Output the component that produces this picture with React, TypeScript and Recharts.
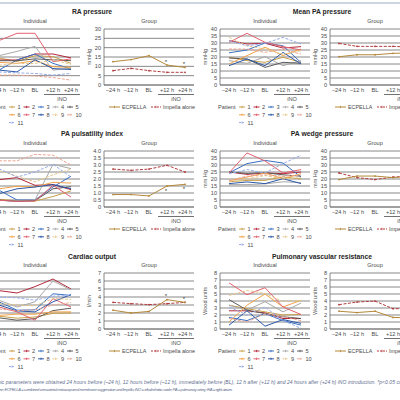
import { LineChart, Line, XAxis, YAxis, CartesianGrid, LabelList } from 'recharts';

// ─── Data ────────────────────────────────────────────────────────────────────

const TIMES = ['–24 h', '–12 h', 'BL', '+12 h', '+24 h'];
const PATIENTS = ['1', '2', '3', '4', '5', '6', '7', '8', '9', '10', '11'];

// RA pressure (mmHg), one row per patient
const raIndividual = [
  [14.5, 12.6, 15.7, 15.2, 11.6],
  [13.4, 13.4, 16.6, 16.6, 14.5],
  [8, 13.4, 16.6, 11.6, 8.6],
  [15.7, 18, 20.7, 8, 9],
  [13, 13, 14, 13.5, 13],
  [12.1, 11.6, 13, 9.8, 9.4],
  [23.8, 27.7, 27.7, 12.5, 14],
  [8, 7, 13.5, 8.8, 8.3],
  [10.6, 11.5, 11.5, 13.6, 11],
  [5.3, 5.3, 4.8, 4, 2.6],
  [7, 6.5, 6.2, 5.3, 6.2],
];
const raEcpella = [12.5, 13.6, 15.7, 10.7, 9.4];
const raImpella = [7.7, 8.9, 7.7, 6.8, 6.8];
const raSig = [false, false, false, true, true];
const raTicks = [0, 5, 10, 15, 20, 25, 30];

// Mean PA pressure (mmHg)
const mpapIndividual = [
  [19.8, 17.4, 16.2, 19.8, 16.2],
  [31.7, 29.3, 29.8, 26.4, 27.4],
  [23, 25, 30, 28, 16],
  [17.4, 15.5, 20.2, 13.8, 17.4],
  [19.3, 18.6, 12.6, 16.2, 15.5],
  [15, 21, 27, 21, 25.7],
  [30.5, 36.9, 30.5, 27.4, 25],
  [13.8, 18.6, 13.8, 23.3, 15],
  [34, 28, 25.7, 22, 24.5],
  [25.7, 25.7, 23.3, 25.7, 22],
  [31.7, 28, 29.8, 34, 29.3],
];
const mpapEcpella = [20.2, 21.6, 21.6, 22.6, 23];
const mpapImpella = [29.7, 27.6, 27.6, 27.6, 27];
const mpapSig = [false, false, false, false, false];
const mpapTicks = [0, 5, 10, 15, 20, 25, 30, 35, 40];

// PA pulsatility index
const papiIndividual = [
  [0.55, 0.45, 0.42, 0.75, 1.15],
  [1.95, 2.1, 1.55, 1.6, 1.24],
  [1.2, 0.5, 0.5, 1.43, 2.2],
  [0.48, 0.43, 0.5, 3.05, 2.74],
  [0.5, 0.4, 0.45, 1.3, 1.45],
  [1.3, 1.48, 1.43, 1.76, 1.71],
  [0.48, 0.4, 0.43, 1.55, 0.71],
  [0.95, 1.3, 1.43, 1.6, 1.3],
  [2.6, 2.2, 1.8, 2.3, 2.7],
  [3.3, 3.3, 3.76, 3.7, 3.0],
  [2.74, 2.14, 2.5, 3.05, 2.14],
];
const papiEcpella = [0.89, 0.89, 0.79, 1.5, 1.62];
const papiImpella = [2.71, 2.62, 2.71, 2.98, 2.5];
const papiSig = [false, false, false, true, true];
const papiTicks = [0, 0.5, 1, 1.5, 2, 2.5, 3, 3.5, 4];

// PA wedge pressure (mmHg)
const pawpIndividual = [
  [18, 19, 19, 21.5, 20],
  [25, 23.3, 24.3, 23.8, 25],
  [24.3, 31, 33.3, 31.4, 21.4],
  [16, 16, 16.5, 18, 17.5],
  [25, 24, 24.5, 23, 22],
  [18.6, 21.4, 24.3, 20.2, 23.8],
  [24.3, 38.6, 32.9, 24.3, 26.7],
  [16.7, 17.9, 16.7, 20.2, 16.7],
  [18, 20, 22.5, 20, 21],
  [19, 22, 23, 22, 23],
  [23.8, 26.7, 24.3, 31, 36.9],
];
const pawpEcpella = [19.6, 22.1, 22.1, 21, 22];
const pawpImpella = [24.3, 21, 19.6, 21.4, 22];
const pawpSig = [false, false, false, false, false];
const pawpTicks = [0, 5, 10, 15, 20, 25, 30, 35, 40];

// Cardiac output (l/min)
const coIndividual = [
  [1.6, 1.35, 1.5, 1.95, 2.0],
  [4.8, 4.5, 5.3, 6.25, 5.0],
  [3.4, 2.35, 2.4, 4.4, 4.2],
  [3.6, 2.75, 3.4, 6.0, 4.9],
  [1.4, 1.1, 1.3, 2.3, 2.6],
  [1.7, 1.85, 1.85, 2.14, 2.14],
  [2.75, 2.14, 1.1, 3.8, 2.75],
  [3.0, 2.26, 2.14, 3.4, 4.3],
  [3.2, 3.0, 2.9, 3.8, 3.7],
  [2.5, 2.3, 2.4, 3.0, 3.3],
  [4.0, 3.9, 3.6, 4.1, 4.2],
];
const coEcpella = [2.35, 2.0, 2.2, 3.67, 3.33];
const coImpella = [3.33, 3.17, 3.05, 3.17, 3.33];
const coSig = [false, false, false, true, true];
const coTicks = [0, 1, 2, 3, 4, 5, 6, 7];

// Pulmonary vascular resistance (Wood units)
const pvrIndividual = [
  [3.4, 2.9, 2.45, 2.0, 2.1],
  [2.6, 2.6, 2.3, 1.5, 1.5],
  [1.65, 1.2, 2.2, 1.2, 0.55],
  [3.4, 2.7, 3.9, 2.45, 3.7],
  [4.2, 2.7, 2.2, 1.75, 1.5],
  [1.0, 3.4, 5.0, 3.15, 4.1],
  [6.6, 4.9, 5.9, 3.15, 2.07],
  [0.55, 2.6, 0.4, 1.35, 0.8],
  [4.8, 5.5, 5.1, 3.9, 4.1],
  [1.5, 1.0, 2.2, 1.8, 1.2],
  [3.15, 2.0, 3.15, 1.2, 0.1],
];
const pvrEcpella = [2.54, 2.35, 2.54, 1.65, 1.6];
const pvrImpella = [3.48, 3.85, 3.99, 2.9, 2.9];
const pvrSig = [false, false, false, false, false];
const pvrTicks = [0, 1, 2, 3, 4, 5, 6, 7, 8];

// ─── Style ───────────────────────────────────────────────────────────────────

const PATIENT_COLORS = [
  '#c9a04a',
  '#b3283a',
  '#3a70c2',
  '#a9a9a9',
  '#5b5b5b',
  '#f2a34c',
  '#e3616f',
  '#2c58a6',
  '#e7c88c',
  '#eca592',
  '#98ade8',
];
const PATIENT_DASHED = [false, false, false, false, false, false, false, false, true, true, true];
const ECPELLA_COLOR = '#b5893a';
const IMPELLA_COLOR = '#b43a3c';
const GRID = '#6a6a6a';
const TXT = '#4a4a4a';
const FS = 5.6;

// plot geometry
const PW = 90;
const PH = 56;
const BAND = PW / 5;
const YW = 30;
const MT = 4;
const MR = 4;
const XH = 24;

const IND_X = [-10, 220];
const GRP_X = [104, 330];
const ROW_TOP = [28.5, 150.5, 272.5];
const TITLE_Y = [12, 134, 257];

interface Metric {
  title: string;
  unit: string;
  ticks: number[];
  fmt?: (v: number) => string;
  individual: number[][];
  ecpella: number[];
  impella: number[];
  sig: boolean[];
  starBelow?: boolean;
}

const METRICS: Metric[] = [
  { title: 'RA pressure', unit: 'mmHg', ticks: raTicks, individual: raIndividual, ecpella: raEcpella, impella: raImpella, sig: raSig },
  { title: 'Mean PA pressure', unit: 'mmHg', ticks: mpapTicks, individual: mpapIndividual, ecpella: mpapEcpella, impella: mpapImpella, sig: mpapSig },
  {
    title: 'PA pulsatility index',
    unit: '',
    ticks: papiTicks,
    fmt: (v) => (v === 0 ? '0' : v.toFixed(1)),
    individual: papiIndividual,
    ecpella: papiEcpella,
    impella: papiImpella,
    sig: papiSig,
    starBelow: true,
  },
  { title: 'PA wedge pressure', unit: 'mm Hg', ticks: pawpTicks, individual: pawpIndividual, ecpella: pawpEcpella, impella: pawpImpella, sig: pawpSig },
  { title: 'Cardiac output', unit: 'l/min', ticks: coTicks, individual: coIndividual, ecpella: coEcpella, impella: coImpella, sig: coSig },
  { title: 'Pulmonary vascular resistance', unit: 'Wood units', ticks: pvrTicks, individual: pvrIndividual, ecpella: pvrEcpella, impella: pvrImpella, sig: pvrSig },
];

function buildRows(m: Metric) {
  return TIMES.map((t, i) => {
    const row: Record<string, string | number | null> = { t };
    m.individual.forEach((vals, p) => {
      row[`p${p + 1}`] = vals[i];
    });
    row.ec = m.ecpella[i];
    row.im = m.impella[i];
    row.star = m.sig[i] ? '*' : null;
    return row;
  });
}

// ─── Pieces ──────────────────────────────────────────────────────────────────

function TimeTick(props: any) {
  const { x, y, payload, index } = props;
  return (
    <g>
      <text x={x} y={y + 6.5} textAnchor="middle" fontSize={FS} fill={TXT}>
        {payload.value}
      </text>
      {index >= 3 && (
        <line x1={x - BAND / 2} x2={x + BAND / 2} y1={y + 9.5} y2={y + 9.5} stroke="#333" strokeWidth={0.7} />
      )}
      {index === 3 && (
        <text x={x + BAND / 2} y={y + 15.5} textAnchor="middle" fontSize={FS} fill={TXT}>
          iNO
        </text>
      )}
    </g>
  );
}

const starContent = (below: boolean) => (p: any) => {
  if (!p.value) return null;
  const x = p.x ?? p.viewBox?.x;
  const y = p.y ?? p.viewBox?.y;
  return (
    <text x={x - 1} y={below ? y + 7 : y - 1.5} textAnchor="middle" fontSize={6} fill="#333">
      *
    </text>
  );
};

function Plot({ x0, y0, m, group }: { x0: number; y0: number; m: Metric; group: boolean }) {
  const rows = buildRows(m);
  const max = m.ticks[m.ticks.length - 1];
  return (
    <div style={{ position: 'absolute', left: x0 - YW, top: y0 - MT }}>
      <LineChart width={YW + PW + MR} height={MT + PH + XH} data={rows} margin={{ top: MT, right: MR, bottom: 0, left: 0 }}>
        <CartesianGrid vertical={false} stroke={GRID} strokeWidth={0.8} />
        <XAxis
          dataKey="t"
          scale="point"
          padding={{ left: BAND / 2, right: BAND / 2 }}
          interval={0}
          height={XH}
          tickSize={0}
          tickMargin={0}
          tickLine={false}
          axisLine={{ stroke: GRID, strokeWidth: 0.8 }}
          tick={(p: any) => <TimeTick {...p} />}
        />
        <YAxis
          width={YW}
          domain={[0, max]}
          ticks={m.ticks}
          tickFormatter={m.fmt}
          interval={0}
          tickSize={0}
          tickMargin={3}
          tickLine={false}
          axisLine={{ stroke: GRID, strokeWidth: 0.8 }}
          tick={{ fontSize: FS, fill: TXT }}
          label={
            m.unit
              ? { value: m.unit, angle: -90, position: 'insideLeft', offset: 15, style: { textAnchor: 'middle', fontSize: FS, fill: TXT } }
              : undefined
          }
        />
        {!group &&
          PATIENTS.map((p, i) => (
            <Line
              key={p}
              dataKey={`p${i + 1}`}
              type="linear"
              stroke={PATIENT_COLORS[i]}
              strokeWidth={1}
              strokeDasharray={PATIENT_DASHED[i] ? '3 1.5' : undefined}
              dot={false}
              isAnimationActive={false}
            />
          ))}
        {group && (
          <Line
            dataKey="im"
            type="linear"
            stroke={IMPELLA_COLOR}
            strokeWidth={1}
            strokeDasharray="3 1.5"
            dot={{ r: 0.9, fill: IMPELLA_COLOR, strokeWidth: 0 }}
            isAnimationActive={false}
          />
        )}
        {group && (
          <Line
            dataKey="ec"
            type="linear"
            stroke={ECPELLA_COLOR}
            strokeWidth={1}
            dot={{ r: 0.9, fill: ECPELLA_COLOR, strokeWidth: 0 }}
            isAnimationActive={false}
          >
            <LabelList dataKey="star" content={starContent(!!m.starBelow)} />
          </Line>
        )}
      </LineChart>
    </div>
  );
}

function Swatch({ x, y, color, dashed, len }: { x: number; y: number; color: string; dashed?: boolean; len: number }) {
  return (
    <g>
      <line x1={x} x2={x + len} y1={y} y2={y} stroke={color} strokeWidth={1} strokeDasharray={dashed ? '2 1' : undefined} />
      <line x1={x + len / 2} x2={x + len / 2} y1={y - 1.2} y2={y + 1.2} stroke={color} strokeWidth={0.8} />
    </g>
  );
}

function PatientLegend({ x, y }: { x: number; y: number }) {
  return (
    <svg style={{ position: 'absolute', left: x, top: y - 4, overflow: 'visible' }} width={100} height={26}>
      <text x={15.5} y={6} fontSize={FS} fill={TXT} textAnchor="end">
        Patient
      </text>
      {PATIENTS.map((p, i) => {
        const lx = 19 + (i % 5) * 14.5;
        const ly = 4 + Math.floor(i / 5) * 7.8;
        return (
          <g key={p}>
            <Swatch x={lx} y={ly} color={PATIENT_COLORS[i]} dashed={PATIENT_DASHED[i]} len={6} />
            <text x={lx + 8.5} y={ly + 2} fontSize={FS} fill={TXT}>
              {p}
            </text>
          </g>
        );
      })}
    </svg>
  );
}

function GroupLegend({ x, y }: { x: number; y: number }) {
  return (
    <svg style={{ position: 'absolute', left: x, top: y - 4, overflow: 'visible' }} width={100} height={10}>
      <Swatch x={5} y={4} color={ECPELLA_COLOR} len={11} />
      <text x={18} y={6} fontSize={5.4} fill={TXT}>
        ECPELLA
      </text>
      <Swatch x={47} y={4} color={IMPELLA_COLOR} dashed len={10} />
      <text x={59} y={6} fontSize={5.4} fill={TXT}>
        Impella alone
      </text>
    </svg>
  );
}

function Label({ x, y, text, bold, size }: { x: number; y: number; text: string; bold?: boolean; size: number }) {
  return (
    <div
      style={{
        position: 'absolute',
        left: x,
        top: y,
        transform: 'translate(-50%, -50%)',
        whiteSpace: 'nowrap',
        fontSize: size,
        fontWeight: bold ? 700 : 400,
        color: bold ? '#262626' : TXT,
        lineHeight: 1,
      }}
    >
      {text}
    </div>
  );
}

const noteStyle = {
  position: 'absolute' as const,
  whiteSpace: 'nowrap' as const,
  fontStyle: 'italic',
  color: '#5f6f8f',
  lineHeight: 1,
};

export default function App() {
  return (
    <div
      style={{
        position: 'absolute',
        left: 0,
        top: 0,
        width: 400,
        height: 400,
        overflow: 'hidden',
        background: '#fff',
        fontFamily: '"Liberation Sans", Arial, sans-serif',
      }}
    >
      <div style={{ position: 'absolute', left: 0, top: 2, width: 400, height: 2, background: '#ccd5e1' }} />
      {METRICS.map((m, k) => {
        const col = k % 2;
        const row = Math.floor(k / 2);
        const top = ROW_TOP[row];
        const ix = IND_X[col];
        const gx = GRP_X[col];
        const legY = top + PH + 22.5;
        return (
          <div key={m.title}>
            <Label x={col === 0 ? 92 : 322} y={TITLE_Y[row]} text={m.title} bold size={6.8} />
            <Label x={ix + PW / 2} y={top - 6.5} text="Individual" size={5.6} />
            <Label x={gx + PW / 2} y={top - 6.5} text="Group" size={5.6} />
            <Plot x0={ix} y0={top} m={m} group={false} />
            <Plot x0={gx} y0={top} m={m} group />
            <PatientLegend x={ix} y={legY} />
            <GroupLegend x={gx} y={legY} />
          </div>
        );
      })}
      <div style={{ ...noteStyle, left: -31, top: 380, fontSize: 5.0, letterSpacing: 0.05 }}>
        Haemodynamic parameters were obtained 24 hours before (–24 h), 12 hours before (–12 h), immediately before (BL), 12 h after (+12 h) and
        24 hours after (+24 h) iNO introduction. *p&lt;0.05 compared with baseline.
      </div>
      <div style={{ ...noteStyle, left: -16, top: 388, fontSize: 4.2, letterSpacing: -0.4 }}>
        with baseline; ECPELLA = combined venoarterial extracorporeal membrane oxygenation and Impella; iNO = inhaled nitric oxide; PA = pulmonary
        artery; RA = right atrium.
      </div>
    </div>
  );
}
